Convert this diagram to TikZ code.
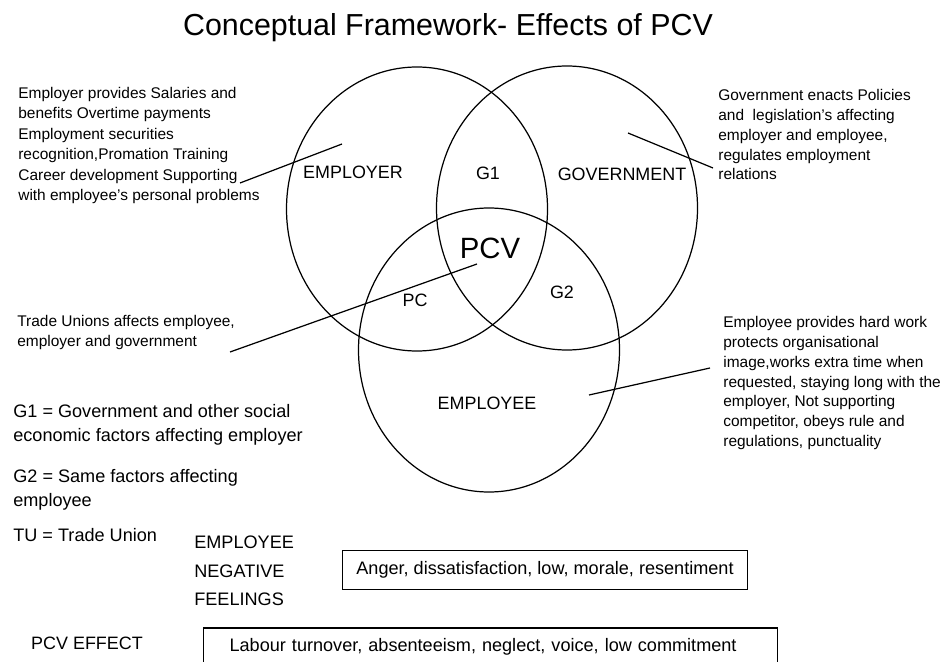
\documentclass[tikz,border=0pt]{standalone}
\usepackage{fontspec}
\setmainfont{Liberation Sans}
\begin{document}
\begin{tikzpicture}[x=0.02cm,y=-0.02cm,
  ring/.style={line width=0.7pt},
  ringlabel/.style={font=\fontsize{10.2}{12}\selectfont},
  note/.style={anchor=north west,inner sep=0pt,align=left,font=\fontsize{8.8}{11.3}\selectfont},
  legend/.style={anchor=north west,inner sep=0pt,align=left,font=\fontsize{10.3}{13.6}\selectfont},
  pointer/.style={line width=0.7pt},
  effectbox/.style={draw,line width=0.7pt,inner sep=0pt,font=\fontsize{10.3}{12}\selectfont}]
\useasboundingbox (0,0) rectangle (943,662);
% title
\node (title) at (448,28) {\fontsize{17.3}{20}\selectfont Conceptual Framework- Effects of PCV};
% the three rings
\draw[ring] (417,209) circle[x radius=130.5,y radius=142];
\draw[ring] (567,208) circle[x radius=130.5,y radius=142];
\draw[ring] (489,350) circle[x radius=130.5,y radius=142];
\node[ringlabel] (employer) at (353,172) {EMPLOYER};
\node[ringlabel] (gone) at (488,173) {G1};
\node[ringlabel] (government) at (622,174) {GOVERNMENT};
\node[font=\fontsize{16.7}{20}\selectfont] (pcv) at (490,248) {PCV};
\node[ringlabel] (pc) at (415,300) {PC};
\node[ringlabel] (gtwo) at (562,292) {G2};
\node[ringlabel] (employee) at (487,403) {EMPLOYEE};
% notes round the rings
\node[note,font=\fontsize{8.8}{11.6}\selectfont] (employertxt) at (18,87) {Employer provides Salaries and\\benefits Overtime payments\\Employment securities\\recognition,Promation Training\\Career development Supporting\\with employee's personal problems};
\node[note] (governmenttxt) at (718,89) {Government enacts Policies\\and\ \ legislation's affecting\\employer and employee,\\regulates employment\\relations};
\node[note] (unionstxt) at (17,315) {Trade Unions affects employee,\\employer and government};
\node[note] (employeetxt) at (723,316) {Employee provides hard work\\protects organisational\\image,works extra time when\\requested, staying long with the\\employer, Not supporting\\competitor, obeys rule and\\regulations, punctuality};
\coordinate (ea) at (240,183);
\coordinate (eb) at (342,144);
\coordinate (ga) at (628,133);
\coordinate (gb) at (713,168);
\coordinate (ua) at (230,352);
\coordinate (ub) at (477,264);
\coordinate (pa) at (589,395);
\coordinate (pb) at (710,368);
\draw[pointer] (ea) -- (eb);
\draw[pointer] (ga) -- (gb);
\draw[pointer] (ua) -- (ub);
\draw[pointer] (pa) -- (pb);
% key
\node[legend] (gonekey) at (13,404) {G1 = Government and other social\\economic factors affecting employer};
\node[legend] (gtwokey) at (13,469) {G2 = Same factors affecting\\employee};
\node[legend] (tukey) at (13,528) {TU = Trade Union};
\node[legend,font=\fontsize{10.3}{16.2}\selectfont] (negfeel) at (194,536) {EMPLOYEE\\NEGATIVE\\FEELINGS};
\node[effectbox,minimum width=8.1cm,minimum height=0.78cm] (angerbox) at (545,570) {Anger, dissatisfaction, low, morale, resentiment};
\node[ringlabel] (pcveffect) at (87,643) {PCV EFFECT};
\node[effectbox,anchor=west,inner xsep=0.52cm,text width=10.44cm,align=left,minimum height=0.76cm] (turnoverbox) at (203,647) {Labour turnover, absenteeism, neglect, voice, low commitment};
\end{tikzpicture}
\end{document}
